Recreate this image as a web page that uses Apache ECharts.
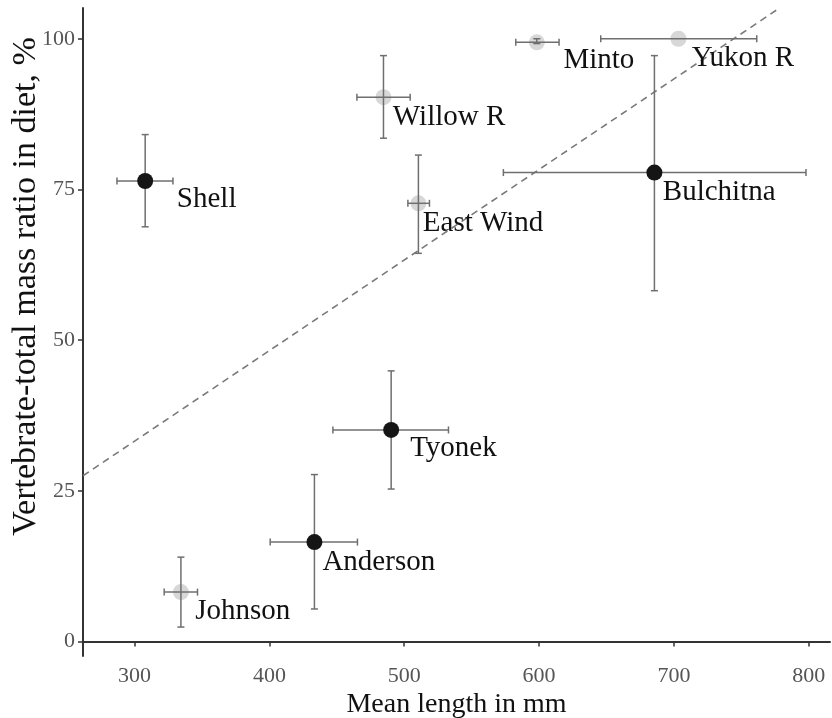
<!DOCTYPE html>
<html>
<head>
<meta charset="utf-8">
<script src="https://cdn.jsdelivr.net/npm/echarts@6/dist/echarts.min.js"></script>
<style>
  html, body { margin: 0; padding: 0; background: #fff; }
  #main { width: 832px; height: 718px; }
</style>
</head>
<body>
<div id="main"></div>
<script>
// sites and values
var sites = ['Shell', 'Willow R', 'Minto', 'Yukon R', 'East Wind', 'Bulchitna', 'Tyonek', 'Anderson', 'Johnson'];
var meanLength = [307.9, 484.6, 598.3, 703.3, 510.5, 685.5, 490.3, 433.4, 334.4];
var lengthLow = [287.0, 464.9, 582.7, 645.7, 502.7, 573.5, 447.1, 400.6, 322.0];
var lengthHigh = [328.5, 504.4, 614.8, 761.4, 518.7, 797.9, 532.8, 465.3, 346.7];
var vertRatio = [76.4, 90.3, 99.4, 100.0, 72.7, 77.8, 35.1, 16.5, 8.2];
var ratioLow = [68.8, 83.5, 99.2, 100.0, 64.4, 58.2, 25.3, 5.4, 2.4];
var ratioHigh = [84.1, 97.2, 100.0, 100.0, 80.7, 97.2, 44.9, 27.7, 14.0];
// filled black dot vs faded grey dot
var isDark = [true, false, false, false, false, true, true, true, false];
// dashed fit line, ends of the visible segment
var fitLine = [[261.8, 27.5], [778.3, 105.1]];
var xTicks = [300, 400, 500, 600, 700, 800];
var yTicks = [0, 25, 50, 75, 100];

// label nudges (px from dot centre to text left / middle)
var labelNudge = [[31.7, 18.8], [9.4, 19.9], [26.6, 17.8], [13.4, 19.8], [4.4, 20.1],
                  [8.4, 20.2], [19, 18.2], [8, 19.9], [14.3, 18.9]];

var DOT = 16;
var SERIF = '"Liberation Serif", "Times New Roman", serif';

function pointData(dark) {
  var out = [];
  sites.forEach(function (s, i) {
    if (isDark[i] !== dark) return;
    out.push({
      name: s,
      value: [meanLength[i], vertRatio[i]],
      label: { position: [labelNudge[i][0] + DOT / 2, labelNudge[i][1] + DOT / 2] }
    });
  });
  return out;
}

var barData = sites.map(function (s, i) {
  return [meanLength[i], vertRatio[i], lengthLow[i], lengthHigh[i], ratioLow[i], ratioHigh[i]];
});

function renderBars(params, api) {
  var x = api.value(0), y = api.value(1);
  var c = 3.5;
  var style = { stroke: '#6f6f6f', lineWidth: 1.5 };
  var kids = [];
  var h0 = api.coord([api.value(2), y]);
  var h1 = api.coord([api.value(3), y]);
  if (h1[0] - h0[0] > 0.5) {
    kids.push({ type: 'line', shape: { x1: h0[0], y1: h0[1], x2: h1[0], y2: h1[1] }, style: style });
    kids.push({ type: 'line', shape: { x1: h0[0], y1: h0[1] - c, x2: h0[0], y2: h0[1] + c }, style: style });
    kids.push({ type: 'line', shape: { x1: h1[0], y1: h1[1] - c, x2: h1[0], y2: h1[1] + c }, style: style });
  }
  var v0 = api.coord([x, api.value(4)]);
  var v1 = api.coord([x, api.value(5)]);
  if (v0[1] - v1[1] > 0.5) {
    kids.push({ type: 'line', shape: { x1: v0[0], y1: v0[1], x2: v1[0], y2: v1[1] }, style: style });
    kids.push({ type: 'line', shape: { x1: v0[0] - c, y1: v0[1], x2: v0[0] + c, y2: v0[1] }, style: style });
    kids.push({ type: 'line', shape: { x1: v1[0] - c, y1: v1[1], x2: v1[0] + c, y2: v1[1] }, style: style });
  }
  return { type: 'group', children: kids };
}

var labelStyle = {
  show: true,
  formatter: '{b}',
  fontFamily: SERIF,
  fontSize: 29,
  color: '#111',
  opacity: 1,
  align: 'left',
  verticalAlign: 'middle'
};

var chart = echarts.init(document.getElementById('main'));
chart.setOption({
  animation: false,
  backgroundColor: '#ffffff',
  grid: { left: 83, right: 2, top: 8, bottom: 62, outerBoundsMode: 'none' },
  xAxis: {
    type: 'value',
    min: 261.8,
    max: 815.7,
    name: 'Mean length in mm',
    nameLocation: 'middle',
    nameGap: 35,
    nameMoveOverlap: false,
    nameTextStyle: { fontFamily: SERIF, fontSize: 28, color: '#111', verticalAlign: 'top' },
    splitLine: { show: false },
    axisLine: { lineStyle: { color: '#333', width: 2 } },
    axisTick: { show: true, length: 5, customValues: xTicks, lineStyle: { color: '#333', width: 1.5 } },
    axisLabel: { customValues: xTicks, margin: 9, fontFamily: SERIF, fontSize: 22, color: '#555' }
  },
  yAxis: {
    type: 'value',
    min: -2.4,
    max: 105.1,
    name: 'Vertebrate-total mass ratio in diet, %',
    nameLocation: 'middle',
    nameRotate: 90,
    nameGap: 40,
    nameMoveOverlap: false,
    nameTextStyle: { fontFamily: SERIF, fontSize: 34, color: '#111', padding: [0, 0, 0, 91] },
    splitLine: { show: false },
    axisLine: { show: true, lineStyle: { color: '#333', width: 2 } },
    axisTick: { show: true, length: 5, customValues: yTicks, lineStyle: { color: '#333', width: 1.5 } },
    axisLabel: { customValues: yTicks, margin: 8, fontFamily: SERIF, fontSize: 22, color: '#555' }
  },
  series: [
    {
      type: 'line',
      data: fitLine,
      symbol: 'none',
      silent: true,
      z: 1,
      lineStyle: { color: '#7a7a7a', width: 1.6, type: [7, 5] }
    },
    {
      type: 'scatter',
      data: pointData(false),
      symbolSize: DOT,
      z: 2,
      itemStyle: { color: 'rgba(175,175,175,0.5)', opacity: 1 },
      label: labelStyle
    },
    {
      type: 'custom',
      data: barData,
      renderItem: renderBars,
      z: 3,
      silent: true
    },
    {
      type: 'scatter',
      data: pointData(true),
      symbolSize: DOT,
      z: 4,
      itemStyle: { color: '#151515', opacity: 1 },
      label: labelStyle
    }
  ]
});
</script>
</body>
</html>
